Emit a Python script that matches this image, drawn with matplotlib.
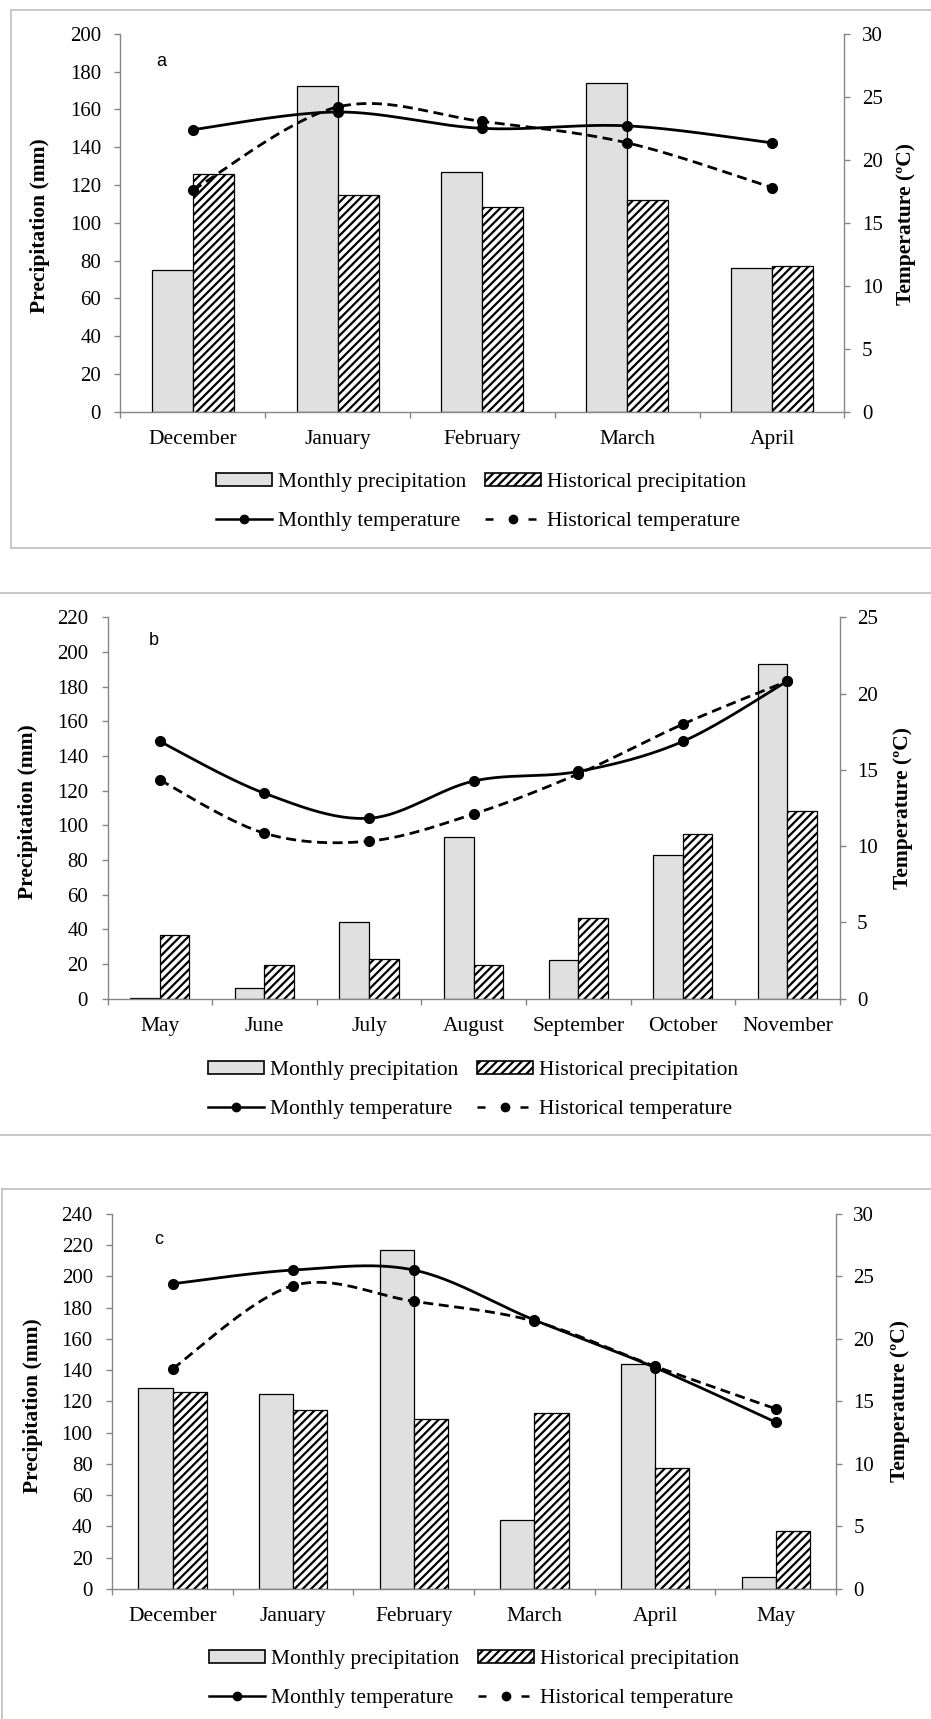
import numpy as np
import matplotlib
matplotlib.use("Agg")
import matplotlib.pyplot as plt
from matplotlib.patches import Patch
from matplotlib.lines import Line2D

# ---------------- data ----------------
a_months = ['December', 'January', 'February', 'March', 'April']
a_monthly_prec = [75.0, 172.4, 126.8, 173.9, 76.0]
a_hist_prec = [125.6, 114.9, 108.5, 112.3, 77.3]
a_monthly_temp = [22.4, 23.8, 22.5, 22.7, 21.35]
a_hist_temp = [17.6, 24.2, 23.05, 21.35, 17.8]

b_months = ['May', 'June', 'July', 'August', 'September', 'October', 'November']
b_monthly_prec = [0.4, 6.0, 44.1, 93.4, 22.1, 82.7, 193.2]
b_hist_prec = [36.7, 19.6, 22.7, 19.6, 46.6, 94.8, 108.5]
b_monthly_temp = [16.87, 13.47, 11.83, 14.27, 14.9, 16.87, 20.83]
b_hist_temp = [14.34, 10.85, 10.33, 12.11, 14.74, 18.0, 20.83]

c_months = ['December', 'January', 'February', 'March', 'April', 'May']
c_monthly_prec = [128.6, 124.4, 217.1, 44.1, 143.6, 7.4]
c_hist_prec = [125.9, 114.7, 108.7, 112.7, 77.5, 37.0]
c_monthly_temp = [24.4, 25.5, 25.5, 21.5, 17.7, 13.33]
c_hist_temp = [17.6, 24.26, 23.0, 21.4, 17.8, 14.4]

legend_labels = ['Monthly precipitation', 'Monthly temperature',
                 'Historical precipitation', 'Historical temperature']

# ---------------- style ----------------
W, H = 931, 1719
plt.rcParams['font.family'] = ['Liberation Serif', 'DejaVu Serif']
plt.rcParams['hatch.linewidth'] = 1.6
AXC = '#868686'
BARGRAY = '#e0e0e0'
FRAMEC = '#c4c4c4'

fig = plt.figure(figsize=(W / 100, H / 100), dpi=100)


def smooth(xs, ys, n=40):
    """Excel-like smoothed line (Catmull-Rom Bezier) through the points."""
    P = np.column_stack([xs, ys]).astype(float)
    out = [P[0]]
    m = len(P)
    for i in range(m - 1):
        p0 = P[i]
        p3 = P[i + 1]
        pm = P[i - 1] if i > 0 else P[i]
        pp = P[i + 2] if i + 2 < m else P[i + 1]
        c1 = p0 + (p3 - pm) / 6.0
        c2 = p3 - (pp - p0) / 6.0
        t = np.linspace(0, 1, n)[1:, None]
        seg = ((1 - t) ** 3) * p0 + 3 * t * (1 - t) ** 2 * c1 + 3 * t ** 2 * (1 - t) * c2 + t ** 3 * p3
        out.extend(seg)
    out = np.array(out)
    return out[:, 0], out[:, 1]


def fline(x0, y0, x1, y1):
    fig.add_artist(Line2D([x0 / W, x1 / W], [1 - y0 / H, 1 - y1 / H],
                          color=FRAMEC, lw=1.3, transform=fig.transFigure))


def panel(rect, months, mprec, hprec, mtemp, htemp, pmax, tmax,
          letter, letter_xy, leg_center, ylab_left, ylab_right):
    l, t, r, b = rect
    ax = fig.add_axes([l / W, 1 - b / H, (r - l) / W, (b - t) / H])
    n = len(months)
    x = np.arange(n)
    w = 0.283
    ax.bar(x - w / 2, mprec, width=w, color=BARGRAY, edgecolor='black', linewidth=0.9, zorder=2)
    ax.bar(x + w / 2, hprec, width=w, color='white', edgecolor='black', linewidth=0.9,
           hatch='////', zorder=2)
    ax.set_xlim(-0.5, n - 0.5)
    ax.set_ylim(0, pmax)
    ax.set_yticks(np.arange(0, pmax + 1, 20))
    ax.set_xticks(x)
    ax.set_xticklabels(months, fontsize=15.5)
    ax.set_xticks(np.arange(-0.5, n, 1.0), minor=True)
    ax.tick_params(axis='x', which='major', length=0, pad=13)
    ax.tick_params(axis='x', which='minor', length=4, width=1, color=AXC, direction='out')
    ax.tick_params(axis='y', length=4, width=1, color=AXC, direction='out', pad=10, labelsize=15)
    for s in ['top', 'right']:
        ax.spines[s].set_visible(False)
    for s in ['left', 'bottom']:
        ax.spines[s].set_color(AXC)
        ax.spines[s].set_linewidth(1.0)

    ax2 = ax.twinx()
    ax2.set_ylim(0, tmax)
    ax2.set_yticks(np.arange(0, tmax + 1, 5))
    ax2.tick_params(axis='y', length=4, width=1, color=AXC, direction='out', pad=8.5, labelsize=15)
    for s in ['top', 'left', 'bottom']:
        ax2.spines[s].set_visible(False)
    ax2.spines['right'].set_color(AXC)
    ax2.spines['right'].set_linewidth(1.0)

    sx, sy = smooth(x, mtemp)
    ax2.plot(sx, sy, color='black', lw=2.0, solid_capstyle='round', zorder=3)
    ax2.plot(x, mtemp, 'o', color='black', ms=7, zorder=4)
    sx, sy = smooth(x, htemp)
    ax2.plot(sx, sy, color='black', lw=2.0, dashes=(3.6, 2.0), zorder=3)
    ax2.plot(x, htemp, 'o', color='black', ms=7, zorder=4)

    fig.text(letter_xy[0] / W, 1 - letter_xy[1] / H, letter, family='Liberation Sans',
             fontsize=13, ha='center', va='center')
    fig.text(ylab_left[0] / W, 1 - ylab_left[1] / H, 'Precipitation (mm)', rotation=90,
             fontsize=15.5, fontweight='bold', ha='center', va='center')
    fig.text(ylab_right[0] / W, 1 - ylab_right[1] / H, 'Temperature (ºC)', rotation=90,
             fontsize=15.5, fontweight='bold', ha='center', va='center')

    handles = [
        Patch(facecolor=BARGRAY, edgecolor='black', linewidth=1.2),
        Line2D([], [], color='black', lw=1.8, marker='o', ms=6),
        Patch(facecolor='white', edgecolor='black', hatch='////', linewidth=1.2),
        Line2D([], [], color='black', lw=1.8, linestyle=(0, (3.2, 14)), marker='o', ms=6),
    ]
    fig.legend(handles, legend_labels, ncol=2, loc='center',
               bbox_to_anchor=(leg_center[0] / W, 1 - leg_center[1] / H),
               frameon=False, fontsize=15.5, handlelength=2.6, handleheight=0.54,
               handletextpad=0.3, columnspacing=0.85, labelspacing=0.92, borderpad=0,
               borderaxespad=0, numpoints=1)
    return ax, ax2


panel((120.5, 33.9, 844.4, 411.8), a_months, a_monthly_prec, a_hist_prec,
      a_monthly_temp, a_hist_temp, 200, 30, 'a', (161.5, 61.4), (481, 502),
      (40, 226), (905.6, 224))
panel((107.5, 617.5, 839.7, 998.6), b_months, b_monthly_prec, b_hist_prec,
      b_monthly_temp, b_hist_temp, 220, 25, 'b', (154, 640.7), (473, 1090),
      (28, 812), (902.6, 808))
panel((112.2, 1213.8, 836, 1588.8), c_months, c_monthly_prec, c_hist_prec,
      c_monthly_temp, c_hist_temp, 240, 30, 'c', (158.5, 1239), (474, 1679),
      (32.7, 1406), (900, 1401))

# panel frames
fline(10.7, 10, 931, 10)
fline(10.7, 10, 10.7, 548)
fline(10.7, 548, 931, 548)
fline(0, 593.3, 931, 593.3)
fline(0, 1135.4, 931, 1135.4)
fline(2, 1189, 931, 1189)
fline(2, 1189, 2, 1719)

fig.savefig('out.png', dpi=100)
